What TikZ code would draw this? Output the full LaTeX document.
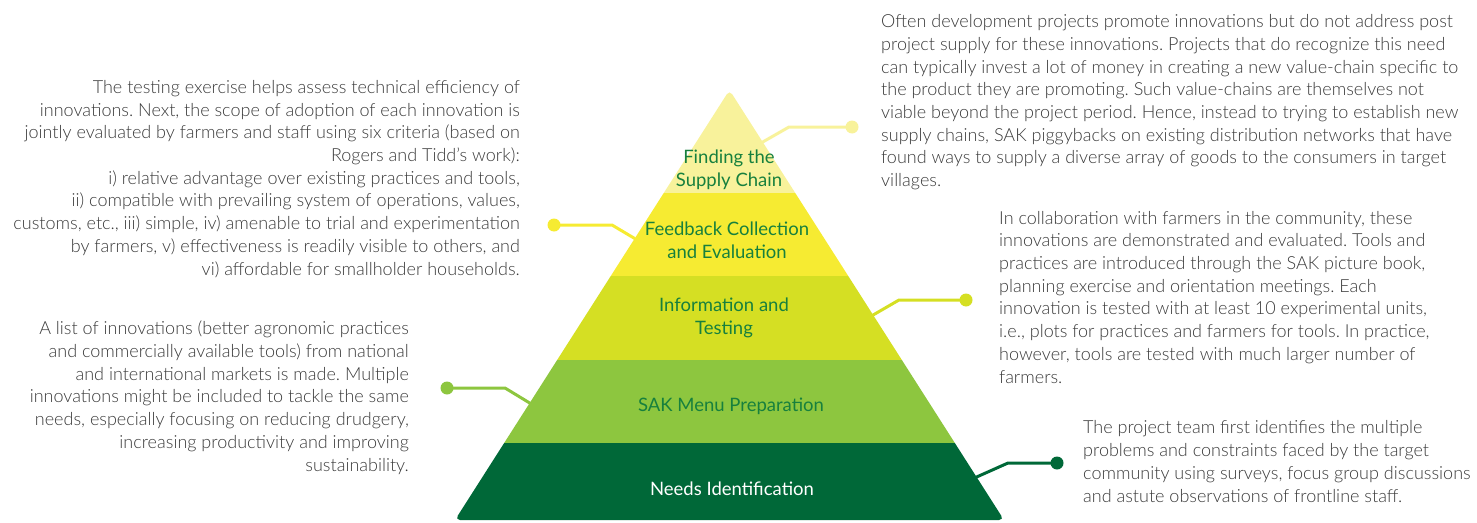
\documentclass[tikz,border=0pt]{standalone}
\usepackage{fontspec}
\setmainfont{Lato Light}
\newfontfamily\labelfont{Lato}
\definecolor{bandA}{HTML}{F8F29B}
\definecolor{bandB}{HTML}{F6EB32}
\definecolor{bandC}{HTML}{D5DF23}
\definecolor{bandD}{HTML}{8DC63F}
\definecolor{bandE}{HTML}{006838}
\definecolor{lblgreen}{HTML}{17803D}
\definecolor{txtgray}{HTML}{3A3A3A}
\tikzset{
  desc/.style={inner sep=0pt, text=txtgray, font=\frenchspacing\fontsize{18}{22.7}\selectfont},
  lbl/.style={inner sep=0pt, align=center, text=lblgreen, font=\frenchspacing\labelfont\fontsize{18.5}{23}\selectfont},
  conn/.style={line width=3pt, line cap=round, line join=round},
  dotm/.style={circle, inner sep=0pt, minimum size=13pt},
}
\begin{document}
\begin{tikzpicture}[x=1pt,y=-1pt]
\useasboundingbox (0,0) rectangle (1477,522);
% pyramid
\coordinate (apex) at (729.5,90);
\coordinate (bl) at (455,520);
\coordinate (br) at (1004,520);
\begin{scope}
\clip[rounded corners=5pt] (apex) -- (br) -- (bl) -- cycle;
\fill[bandA] (440,80) rectangle (1020,193);
\fill[bandB] (440,193) rectangle (1020,276);
\fill[bandC] (440,276) rectangle (1020,360);
\fill[bandD] (440,360) rectangle (1020,443);
\fill[bandE] (440,443) rectangle (1020,530);
\end{scope}
% labels
\node[lbl] (l1) at (729,170) {Finding the\\Supply Chain};
\node[lbl] (l2) at (727,240.5) {Feedback Collection\\and Evaluation};
\node[lbl] (l3) at (724,318) {Information and\\Testing};
\node[lbl] (l4) at (731,406) {SAK Menu Preparation};
\node[lbl, text=white] (l5) at (732,489) {Needs Identification};
% connectors
\coordinate (c1s) at (762.7,142);
\coordinate (c1e) at (789,127);
\node[dotm, fill=bandA] (d1) at (852,127) {};
\draw[conn, bandA] (c1s) -- (c1e) -- (d1.center);
\coordinate (c2s) at (634.7,238.5);
\coordinate (c2e) at (612,225);
\node[dotm, fill=bandB] (d2) at (554,225) {};
\draw[conn, bandB] (c2s) -- (c2e) -- (d2.center);
\coordinate (c3s) at (873.1,315);
\coordinate (c3e) at (899,300);
\node[dotm, fill=bandC] (d3) at (966,300) {};
\draw[conn, bandC] (c3s) -- (c3e) -- (d3.center);
\coordinate (c4s) at (529.7,403);
\coordinate (c4e) at (505,388);
\node[dotm, fill=bandD] (d4) at (447,388) {};
\draw[conn, bandD] (c4s) -- (c4e) -- (d4.center);
\coordinate (c5s) at (976.6,477);
\coordinate (c5e) at (1008,463);
\node[dotm, fill=bandE] (d5) at (1057,463) {};
\draw[conn, bandE] (c5s) -- (c5e) -- (d5.center);
% descriptions (anchor = baseline of last line)
\node[desc, align=left, anchor=base west] (t1) at (881,186.5) {Often development projects promote innovations but do not address post\\project supply for these innovations. Projects that do recognize this need\\can typically invest a lot of money in creating a new value-chain specific to\\the product they are promoting. Such value-chains are themselves not\\viable beyond the project period. Hence, instead to trying to establish new\\supply chains, SAK piggybacks on existing distribution networks that have\\found ways to supply a diverse array of goods to the consumers in target\\villages.};
\node[desc, align=right, anchor=base east] (t2) at (520,275) {The testing exercise helps assess technical efficiency of\\innovations. Next, the scope of adoption of each innovation is\\jointly evaluated by farmers and staff using six criteria (based on\\Rogers and Tidd’s work):\\i) relative advantage over existing practices and tools,\\ii) compatible with prevailing system of operations, values,\\customs, etc., iii) simple, iv) amenable to trial and experimentation\\by farmers, v) effectiveness is readily visible to others, and\\vi) affordable for smallholder households.};
\node[desc, align=left, anchor=base west] (t3) at (999,383) {In collaboration with farmers in the community, these\\innovations are demonstrated and evaluated. Tools and\\practices are introduced through the SAK picture book,\\planning exercise and orientation meetings. Each\\innovation is tested with at least 10 experimental units,\\i.e., plots for practices and farmers for tools. In practice,\\however, tools are tested with much larger number of\\farmers.};
\node[desc, align=right, anchor=base east] (t4) at (409,471) {A list of innovations (better agronomic practices\\and commercially available tools) from national\\and international markets is made. Multiple\\innovations might be included to tackle the same\\needs, especially focusing on reducing drudgery,\\increasing productivity and improving\\sustainability.};
\node[desc, align=left, anchor=base west] (t5) at (1083,502) {The project team first identifies the multiple\\problems and constraints faced by the target\\community using surveys, focus group discussions\\and astute observations of frontline staff.};
\end{tikzpicture}
\end{document}
